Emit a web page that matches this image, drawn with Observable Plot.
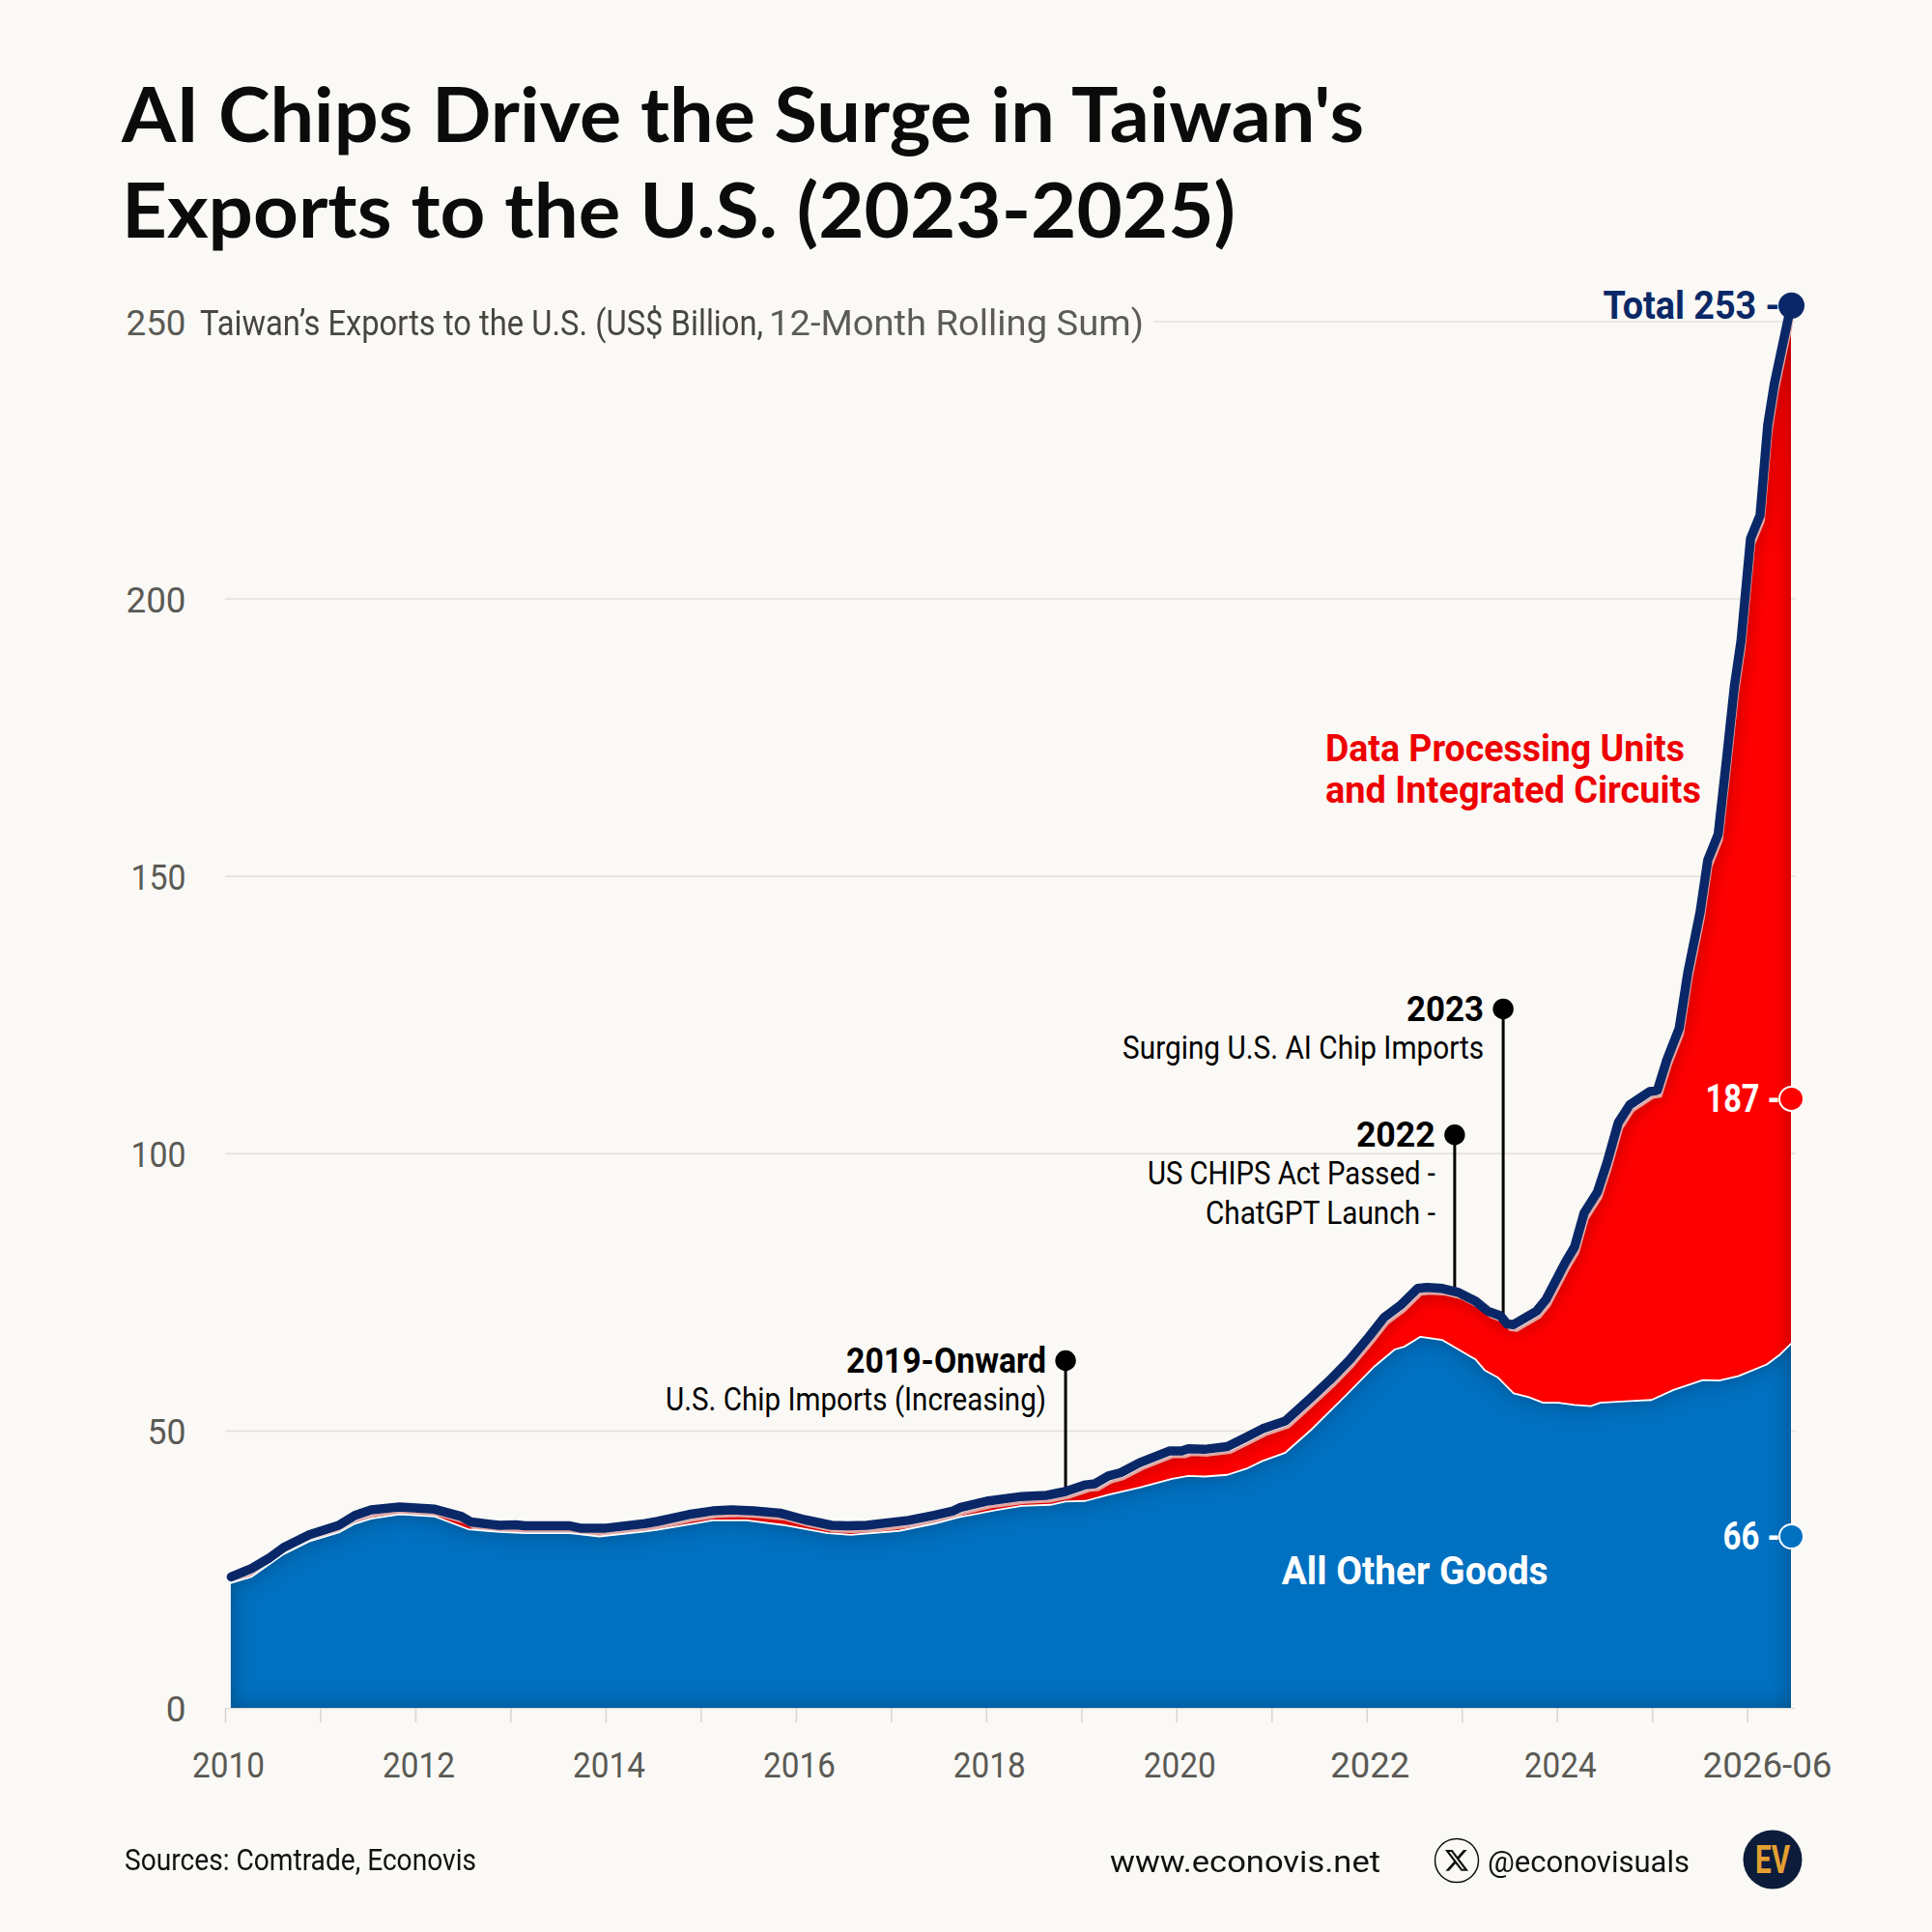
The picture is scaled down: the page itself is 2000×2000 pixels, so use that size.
<!DOCTYPE html>
<html>
<head>
<meta charset="utf-8">
<script src="https://cdn.jsdelivr.net/npm/d3@7"></script>
<script src="https://cdn.jsdelivr.net/npm/@observablehq/plot@0.6"></script>
<style>
  html,body{margin:0;padding:0;background:#fbf9f5;}
  body{position:relative;width:2000px;height:2000px;overflow:hidden;font-family:Roboto,sans-serif;}
  .abs{position:absolute;white-space:nowrap;transform-origin:0 50%;line-height:1;}
  h1.abs{margin:0;font-family:Lato,sans-serif;font-weight:700;font-size:78px;color:#0b0b0b;}
  #chart{position:absolute;left:0;top:280px;}
</style>
</head>
<body>
<h1 class="abs" data-w="1286" style="left:126px;top:78px">AI Chips Drive the Surge in Taiwan's</h1>
<h1 class="abs" data-w="1153" style="left:126px;top:177px">Exports to the U.S. (2023-2025)</h1>
<div class="abs" data-w="583" style="left:207px;top:317px;font-size:36px;color:#47463f">Taiwan’s Exports to the U.S. (US$ Billion,</div>
<div class="abs" data-w="388" style="left:796px;top:317px;font-size:36px;color:#5c5b56">12-Month Rolling Sum)</div>
<div id="chart"></div>
<div class="abs" data-w="364" style="left:129px;top:1910px;font-size:31px;color:#111">Sources: Comtrade, Econovis</div>
<div class="abs" data-w="280" style="left:1149px;top:1911px;font-size:32px;color:#111">www.econovis.net</div>
<svg class="abs" style="left:1484px;top:1902px" width="48" height="48" viewBox="0 0 48 48">
  <circle cx="24" cy="24" r="22.5" fill="none" stroke="#111" stroke-width="1.5"/>
  <path transform="translate(10.5,10.5) scale(1.12)" fill="#111" d="M18.244 2.25h3.308l-7.227 8.26 8.502 11.24H16.17l-5.214-6.817L4.99 21.75H1.68l7.73-8.835L1.254 2.25H8.08l4.713 6.231zm-1.161 17.52h1.833L7.084 4.126H5.117z"/>
</svg>
<div class="abs" data-w="209" style="left:1540px;top:1911px;font-size:32px;color:#111">@econovisuals</div>
<svg class="abs" style="left:1804px;top:1894px" width="62" height="62" viewBox="0 0 62 62">
  <circle cx="31" cy="31" r="30.5" fill="#0c1c3a"/>
  <text x="31" y="45" text-anchor="middle" font-family="Roboto" font-weight="700" font-size="40" fill="#e5a032" textLength="36" lengthAdjust="spacingAndGlyphs">EV</text>
</svg>

<script>
// Series (year as a decimal, US$ billion)
const totalYears = [2010.06,2010.27,2010.45,2010.61,2010.88,2011.19,2011.36,2011.53,2011.83,2012.2,2012.48,2012.58,2012.88,2013.05,2013.15,2013.62,2013.73,2014.0,2014.41,2014.54,2014.87,2015.12,2015.32,2015.55,2015.83,2016.09,2016.37,2016.54,2016.74,2017.18,2017.45,2017.65,2017.72,2018.02,2018.37,2018.63,2018.83,2019.04,2019.14,2019.28,2019.41,2019.61,2019.92,2020.05,2020.12,2020.29,2020.53,2020.73,2020.9,2021.14,2021.41,2021.61,2021.82,2022.02,2022.18,2022.36,2022.53,2022.63,2022.79,2022.96,2023.14,2023.27,2023.4,2023.47,2023.54,2023.78,2023.88,2024.08,2024.18,2024.28,2024.42,2024.52,2024.64,2024.76,2024.97,2025.05,2025.15,2025.28,2025.37,2025.5,2025.58,2025.69,2025.78,2025.86,2025.93,2026.03,2026.13,2026.21,2026.28,2026.42,2026.46];
const totalValues = [23.7,25.2,27.0,29.0,31.3,33.0,34.8,35.8,36.3,35.9,34.6,33.6,33.0,33.1,32.9,32.9,32.5,32.5,33.3,33.7,34.95,35.6,35.8,35.6,35.2,34.0,33.0,32.9,33.0,33.9,34.8,35.6,36.2,37.4,38.2,38.4,39.1,40.3,40.5,41.9,42.5,44.3,46.4,46.4,46.8,46.7,47.2,48.9,50.4,51.8,56.0,59.2,62.9,67.0,70.5,72.8,75.7,75.9,75.7,75.0,73.4,71.6,70.8,69.3,69.2,71.6,73.7,80.3,83.2,89.3,93.1,98.3,105.6,108.8,111.2,111.4,116.9,122.6,132.6,143.6,152.9,157.6,171.5,184.3,192.5,210.9,215.1,231.3,238.8,250.1,252.9];
const otherYears = [2010.06,2010.27,2010.61,2010.88,2011.19,2011.36,2011.53,2011.83,2012.2,2012.55,2012.88,2013.15,2013.62,2013.93,2014.41,2014.54,2014.81,2015.12,2015.48,2015.89,2016.33,2016.57,2017.08,2017.45,2017.72,2018.12,2018.37,2018.67,2018.83,2019.04,2019.28,2019.61,2019.95,2020.12,2020.29,2020.53,2020.73,2020.9,2021.14,2021.41,2021.78,2022.08,2022.29,2022.39,2022.56,2022.79,2022.93,2023.14,2023.24,2023.37,2023.54,2023.7,2023.85,2024.01,2024.18,2024.35,2024.45,2024.76,2024.99,2025.22,2025.53,2025.7,2025.9,2026.2,2026.34,2026.46];
const otherValues = [22.6,23.7,27.8,30.1,31.7,33.3,34.2,35.0,34.6,32.3,31.8,31.6,31.6,31.0,31.9,32.2,33.0,33.9,33.9,33.0,31.6,31.3,32.0,33.3,34.5,35.8,36.5,36.7,37.3,37.4,38.5,39.8,41.4,41.9,41.8,42.1,43.2,44.6,46.1,50.2,56.5,61.7,64.7,65.2,67.0,66.4,65.0,62.9,60.9,59.7,56.8,56.1,55.1,55.1,54.7,54.5,55.1,55.4,55.6,57.4,59.2,59.1,59.9,62.0,63.8,65.8];

const END = 2026.46;
const gridValues = [0,50,100,150,200];
const yTicks = [0,50,100,150,200,250];
const yearTicks = [2010,2011,2012,2013,2014,2015,2016,2017,2018,2019,2020,2021,2022,2023,2024,2025,2026];
const yearLabels = [2010,2012,2014,2016,2018,2020,2022,2024];

const total = totalYears.map((x,i)=>({x, v: totalValues[i]}));
const other = otherYears.map((x,i)=>({x, v: otherValues[i]}));

// Event stems
const eventYears = [2018.83, 2022.92, 2023.43];
const eventTops  = [62.7, 103.4, 126.1];
const eventBases = [39.1, 75.2, 70.5];
const events = eventYears.map((x,i)=>({x, top: eventTops[i], base: eventBases[i]}));
const headNames = ["2019-Onward","2022","2023"];
const heads = headNames.map((t,i)=>({t, x: eventYears[i], y: eventTops[i]}));
const subNotes = [
  {t:"U.S. Chip Imports (Increasing)", x:2018.83, y:62.7, dy:41},
  {t:"US CHIPS Act Passed -", x:2022.92, y:103.4, dy:41},
  {t:"ChatGPT Launch -", x:2022.92, y:103.4, dy:82},
  {t:"Surging U.S. AI Chip Imports", x:2023.43, y:126.1, dy:41}
];

// End-of-series labels
const endLabels = ["Total 253 -","187 -","66 -"];
const endValues = [252.9, 109.9, 31];
const endFills = ["#0a2868","#ff0000","#0070c0"];
const endStrokes = ["#0a2868","#ffffff","#ffffff"];
const endText = ["#0a2868","#ffffff","#ffffff"];
const ends = endLabels.map((t,i)=>({t, y:endValues[i], fill:endFills[i], stroke:endStrokes[i], color:endText[i]}));

// Rendered widths of the labels, px
const widths = {
  "2019-Onward":207,"2022":82,"2023":80,
  "U.S. Chip Imports (Increasing)":394,"US CHIPS Act Passed -":298,"ChatGPT Launch -":238,"Surging U.S. AI Chip Imports":374,
  "Data Processing Units":372,"and Integrated Circuits":389,"All Other Goods":276,
  "Total 253 -":183,"187 -":77,"66 -":59,"2026-06":134,
  "250":62,"200":62,"150":57,"100":57,"50":40
};

const SHIFT_X = 0.035, SHIFT_V = 1.05;
const redTop = total.map(d=>({x: Math.min(d.x+SHIFT_X, END), v: d.v-SHIFT_V}));
const grid = "#e3e0da", tickInk = "#5a5a55";

const chart = Plot.plot({
  width:2000, height:1600,
  marginLeft:233, marginRight:146, marginTop:20, marginBottom:112,
  x:{domain:[2010,END], label:null},
  y:{domain:[0,255.66], label:null},
  style:{background:"transparent", fontFamily:"Roboto, sans-serif", overflow:"visible"},
  marks:[
    Plot.ruleY(gridValues,{x1:2010,x2:END+0.045,stroke:grid,strokeWidth:1.5}),
    Plot.ruleY([250],{x1:2019.76,x2:END+0.045,stroke:grid,strokeWidth:1.5}),
    Plot.axisX({ticks:yearTicks,tickSize:15,tickFormat:()=>"",label:null,stroke:"#d8d5cf",strokeWidth:1.5}),
    Plot.axisX({ticks:yearLabels,tickSize:0,tickPadding:45,tickFormat:"d",label:null,fontSize:37,fill:tickInk,dx:3}),
    Plot.text(["2026-06"],{x:END,y:0,dy:60,dx:-25,text:d=>d,fontSize:37,fill:tickInk}),
    Plot.axisY({ticks:yTicks,tickSize:0,tickPadding:41,label:null,fontSize:37,fill:tickInk,dy:2}),
    Plot.areaY(redTop,{x:"x",y1:0,y2:"v",fill:"#ff0000",imageFilter:"url(#inner)"}),
    Plot.line(redTop,{x:"x",y:"v",stroke:"#e2a5a2",strokeWidth:3}),
    Plot.areaY(other,{x:"x",y:"v",fill:"#0070c0",imageFilter:"url(#inner)"}),
    Plot.line(other,{x:"x",y:"v",stroke:"#ffffff",strokeWidth:1.8}),
    Plot.ruleX(events,{x:"x",y1:"base",y2:"top",stroke:"#000",strokeWidth:3}),
    Plot.line(total,{x:"x",y:"v",stroke:"#0a2868",strokeWidth:9.5,strokeLinecap:"round"}),
    Plot.dot(events,{x:"x",y:"top",r:10.7,fill:"#000"}),
    Plot.text(heads,{x:"x",y:"y",text:"t",dx:-20,dy:1,textAnchor:"end",fontSize:36,fontWeight:700,fill:"#000"}),
    ...subNotes.map(n=>Plot.text([n],{x:"x",y:"y",text:"t",dx:-20,dy:n.dy,textAnchor:"end",fontSize:33,fill:"#000"})),
    Plot.text(["Data Processing Units"],{x:2021.56,y:172.8,text:d=>d,textAnchor:"start",fontSize:38,fontWeight:700,fill:"#ee0000"}),
    Plot.text(["and Integrated Circuits"],{x:2021.56,y:165.4,text:d=>d,textAnchor:"start",fontSize:38,fontWeight:700,fill:"#ee0000"}),
    Plot.text(["All Other Goods"],{x:2021.1,y:24.7,text:d=>d,textAnchor:"start",fontSize:41,fontWeight:700,fill:"#fff"}),
    Plot.dot(ends,{x:END,y:"y",r:12.5,fill:d=>d.fill,stroke:d=>d.stroke,strokeWidth:2}),
    Plot.text(ends,{x:END,y:"y",text:"t",dx:-12,dy:1,textAnchor:"end",fontSize:40,fontWeight:700,fill:d=>d.color})
  ]
});

// Inner shading used by the filled areas
const svg = d3.select(chart.tagName==="svg"?chart:chart.querySelector("svg"));
svg.append("defs").html(`
  <filter id="inner" x="-5%" y="-10%" width="110%" height="120%" color-interpolation-filters="sRGB">
    <feComponentTransfer in="SourceAlpha" result="inv"><feFuncA type="table" tableValues="1 0"/></feComponentTransfer>
    <feGaussianBlur in="inv" stdDeviation="11" result="blur"/>
    <feFlood flood-color="#000" flood-opacity="0.3"/>
    <feComposite in2="blur" operator="in" result="shade"/>
    <feComposite in="shade" in2="SourceAlpha" operator="in" result="clipped"/>
    <feMerge><feMergeNode in="SourceGraphic"/><feMergeNode in="clipped"/></feMerge>
  </filter>`);
document.getElementById("chart").append(chart);

// Fit label widths to the condensed look
svg.selectAll("text").each(function(){
  const key = this.textContent.trim();
  const w = widths[key] || (/^20\d\d$/.test(key) ? 75 : 0);
  if (w) { this.setAttribute("textLength", w); this.setAttribute("lengthAdjust","spacingAndGlyphs"); }
});
document.querySelectorAll("[data-w]").forEach(el=>{
  const k = +el.dataset.w / el.getBoundingClientRect().width;
  el.style.transform = `scaleX(${k})`;
});
</script>
</body>
</html>
